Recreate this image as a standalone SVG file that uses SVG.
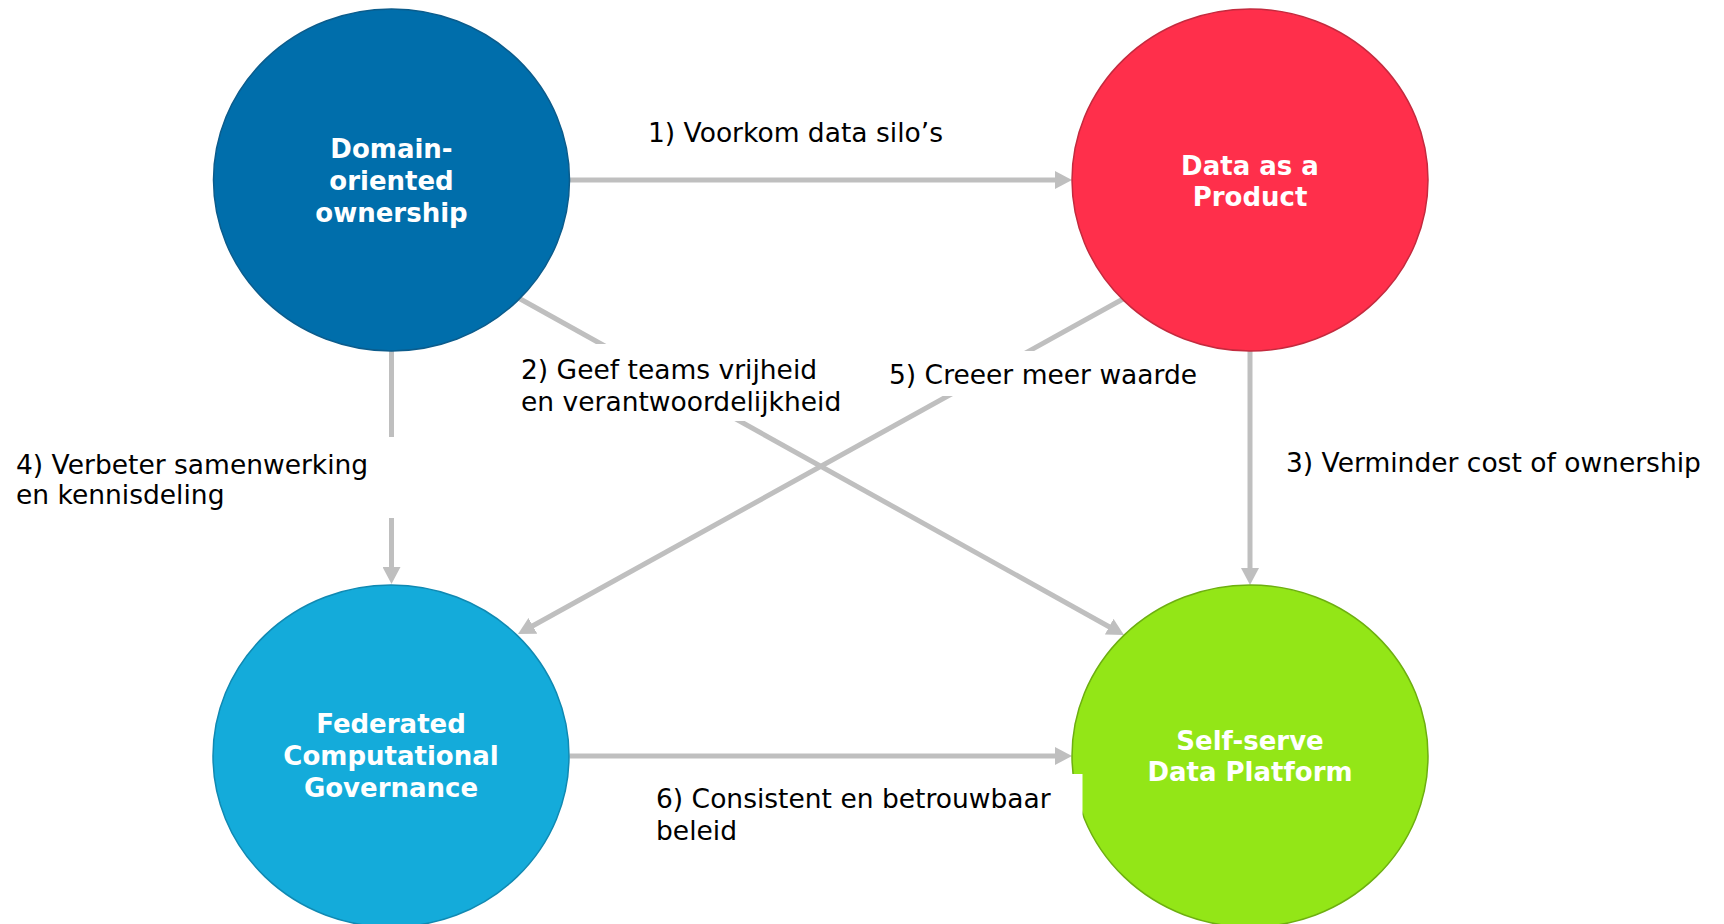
<svg xmlns="http://www.w3.org/2000/svg" width="1724" height="924" viewBox="0 0 1724 924">
  <style>
    .node-label { font-family: "DejaVu Sans", Verdana, sans-serif; font-weight: bold; font-size: 26px; fill: #FFFFFF; text-anchor: middle; }
    .edge-label { font-family: "DejaVu Sans", Verdana, sans-serif; font-size: 26.5px; fill: #000000; }
    .conn { stroke: #BFBFBF; stroke-width: 5; fill: none; marker-end: url(#arrow); }
    .lblbg { fill: #FFFFFF; stroke: none; }
  </style>
  <defs>
    <marker id="arrow" markerUnits="userSpaceOnUse" markerWidth="18" markerHeight="18" viewBox="0 0 18 18" refX="1" refY="9" orient="auto">
      <path d="M0,0 L17,9 L0,18 z" fill="#BFBFBF"/>
    </marker>
  </defs>
  <rect x="0" y="0" width="1724" height="924" fill="#FFFFFF"/>

  <g id="connectors">
    <line class="conn" x1="570" y1="180" x2="1056" y2="180"/>
    <line class="conn" x1="518.5" y1="298" x2="1110" y2="627.2"/>
    <line class="conn" x1="1250" y1="351" x2="1250" y2="569"/>
    <line class="conn" x1="391.5" y1="351" x2="391.5" y2="568"/>
    <line class="conn" x1="1123" y1="299" x2="532" y2="626.3"/>
    <line class="conn" x1="569.5" y1="756" x2="1056" y2="756"/>
  </g>

  <g id="node-domain">
    <ellipse cx="391.5" cy="180" rx="178" ry="171" fill="#006EAB" stroke="#0B5C8C" stroke-width="1.5"/>
    <text class="node-label" x="391.5" y="158.3">Domain-</text>
    <text class="node-label" x="391.5" y="190">oriented</text>
    <text class="node-label" x="391.5" y="221.7">ownership</text>
  </g>

  <g id="node-product">
    <ellipse cx="1250" cy="180" rx="178" ry="171" fill="#FF2F4B" stroke="#C42A3E" stroke-width="1.5"/>
    <text class="node-label" x="1250" y="175">Data as a</text>
    <text class="node-label" x="1250" y="206">Product</text>
  </g>

  <g id="node-governance">
    <ellipse cx="391" cy="756" rx="178" ry="171" fill="#14ABDA" stroke="#1089B2" stroke-width="1.5"/>
    <text class="node-label" x="391" y="733.3">Federated</text>
    <text class="node-label" x="391" y="765">Computational</text>
    <text class="node-label" x="391" y="796.7">Governance</text>
  </g>

  <g id="node-platform">
    <ellipse cx="1250" cy="756" rx="178" ry="171" fill="#93E617" stroke="#6DAF10" stroke-width="1.5"/>
    <text class="node-label" x="1250" y="750">Self-serve</text>
    <text class="node-label" x="1250" y="781">Data Platform</text>
  </g>

  <g id="edge-labels">
    <g id="label-1">
      <text class="edge-label" x="648" y="141.7">1) Voorkom data silo’s</text>
    </g>
    <g id="label-2">
      <rect class="lblbg" x="508" y="344" width="345" height="77"/>
      <text class="edge-label" x="521" y="379">2) Geef teams vrijheid</text>
      <text class="edge-label" x="521" y="411">en verantwoordelijkheid</text>
    </g>
    <g id="label-3">
      <text class="edge-label" x="1286" y="471.7">3) Verminder cost of ownership</text>
    </g>
    <g id="label-4">
      <rect class="lblbg" x="5" y="437" width="395" height="81"/>
      <text class="edge-label" x="16" y="473.5">4) Verbeter samenwerking</text>
      <text class="edge-label" x="16" y="504">en kennisdeling</text>
    </g>
    <g id="label-5">
      <rect class="lblbg" x="880" y="351" width="325" height="45"/>
      <text class="edge-label" x="889" y="384.3">5) Creeer meer waarde</text>
    </g>
    <g id="label-6">
      <rect class="lblbg" x="645" y="774" width="437.5" height="80"/>
      <text class="edge-label" x="656" y="808.3">6) Consistent en betrouwbaar</text>
      <text class="edge-label" x="656" y="840">beleid</text>
    </g>
  </g>
</svg>
